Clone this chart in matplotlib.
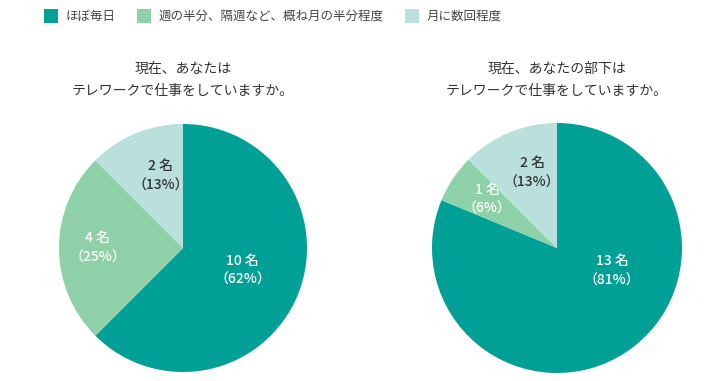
import matplotlib
matplotlib.use("Agg")
import matplotlib.pyplot as plt
from matplotlib.patches import Rectangle

plt.rcParams['font.family'] = ['Noto Sans CJK JP', 'DejaVu Sans']

# --------------------------------------------------------------------- #
# Data
# --------------------------------------------------------------------- #
categories = ["ほぼ毎日", "週の半分、隔週など、概ね月の半分程度", "月に数回程度"]
colors = ["#00a096", "#8ed1a8", "#b9e0dd"]
label_colors = ["white", "white", "#333333"]

left_title = "現在、あなたは\nテレワークで仕事をしていますか。"
left_counts = [10, 4, 2]
left_pct = [62, 25, 13]

right_title = "現在、あなたの部下は\nテレワークで仕事をしていますか。"
right_counts = [13, 1, 2]
right_pct = [81, 6, 13]

# label offsets inside each pie (radius units)
left_label_pos = [(0.48, -0.18), (-0.69, 0.0), (-0.18, 0.58)]
right_label_pos = [(0.44, -0.18), (-0.56, 0.39), (-0.20, 0.60)]

W, H = 728, 381
fig = plt.figure(figsize=(W / 100, H / 100), dpi=100)


def draw_pie(cx, cy, r, counts, pct, title, label_pos):
    ax = fig.add_axes([(cx - r) / W, (H - cy - r) / H, 2 * r / W, 2 * r / H])
    ax.pie(counts, colors=colors, startangle=90, counterclock=False,
           radius=1.0, wedgeprops=dict(linewidth=0))
    ax.set_xlim(-1, 1)
    ax.set_ylim(-1, 1)
    ax.set_aspect("auto")
    ax.axis("off")
    for n, p, (x, y), c in zip(counts, pct, label_pos, label_colors):
        ax.text(x, y, f"{n} 名\n（{p}%）", ha="center", va="center",
                fontsize=10, color=c, linespacing=1.5, fontweight="medium")
    fig.text(cx / W, 1 - 80 / H, title, ha="center", va="center",
             fontsize=10, color="#333333", linespacing=1.75)


draw_pie(183, 248, 124, left_counts, left_pct, left_title, left_label_pos)
draw_pie(557, 248, 125, right_counts, right_pct, right_title, right_label_pos)

# ---- legend along the top ------------------------------------------ #
legend_x = [44, 137, 405]
for x, lab, col in zip(legend_x, categories, colors):
    fig.patches.append(Rectangle((x / W, 1 - 23 / H), 14 / W, 14 / H,
                                 transform=fig.transFigure, facecolor=col,
                                 edgecolor="none"))
    fig.text((x + 22) / W, 1 - 16 / H, lab, ha="left", va="center",
             fontsize=9, color="#444444")

fig.savefig("out.png", dpi=100)
